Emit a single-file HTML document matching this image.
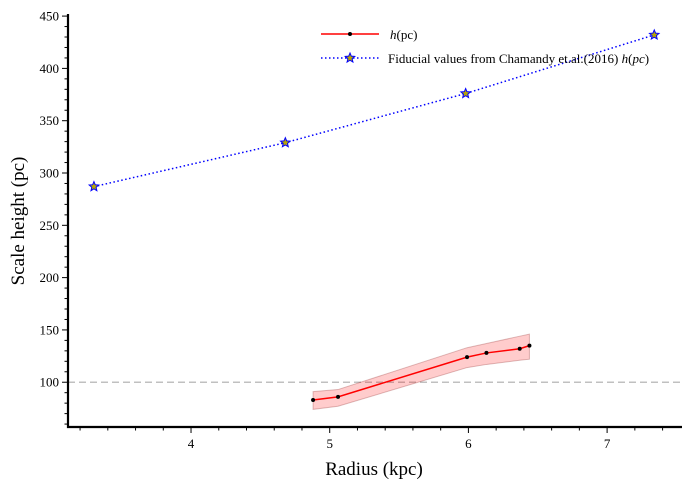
<!DOCTYPE html>
<html><head><meta charset="utf-8"><style>
body{margin:0;background:#fff;}
svg{display:block;font-family:"Liberation Serif",serif;}
</style></head><body>
<svg id="c" width="690" height="489"></svg>
<script>
const redX=[4.88,5.06,5.99,6.13,6.37,6.44];
const redY=[83,86,124,128,132,135];
const redLo=[74,77,114,117,121,122];
const redHi=[91,93,133,137,144,146];
const blueX=[3.3,4.68,5.98,7.34];
const blueY=[287,329,376,432];
const xTicks=[4,5,6,7];
const yTicks=[100,150,200,250,300,350,400,450];
const refY=100;
const X0=68,X1=682,Y0=427,Y1=14;
const xmin=3.113,xmax=7.54,ymin=57.2,ymax=452;
const sx=v=>X0+(v-xmin)/(xmax-xmin)*(X1-X0);
const sy=v=>Y0-(v-ymin)/(ymax-ymin)*(Y0-Y1);
const svg=document.getElementById('c');
const NS='http://www.w3.org/2000/svg';
function mk(t,a,p){const e=document.createElementNS(NS,t);for(const k in a)e.setAttribute(k,a[k]);(p||svg).appendChild(e);return e;}
function star(cx,cy,r){let p='';for(let i=0;i<10;i++){const rr=i%2?r*0.45:r;const a=-Math.PI/2+i*Math.PI/5;p+=(i?'L':'M')+(cx+rr*Math.cos(a)).toFixed(2)+' '+(cy+rr*Math.sin(a)).toFixed(2);}return p+'Z';}
let e=mk('line',{x1:X0,x2:X1,y1:sy(refY),y2:sy(refY),stroke:'#c0c0c0','stroke-width':1.5,'stroke-dasharray':'7,4'});

let bp=redX.map((x,i)=>(i?'L':'M')+sx(x)+' '+sy(redHi[i])).join('')+redX.slice().reverse().map((x,i)=>'L'+sx(x)+' '+sy(redLo[redX.length-1-i])).join('')+'Z';
e=mk('path',{d:bp,fill:'rgba(255,0,0,0.2)',stroke:'rgba(120,0,0,0.25)','stroke-width':1});

e=mk('polyline',{points:redX.map((x,i)=>sx(x)+','+sy(redY[i])).join(' '),fill:'none',stroke:'red','stroke-width':1.5});

redX.forEach((x,i)=>{const c=mk('circle',{cx:sx(x),cy:sy(redY[i]),r:2,fill:'#000'});
});
e=mk('polyline',{points:blueX.map((x,i)=>sx(x)+','+sy(blueY[i])).join(' '),fill:'none',stroke:'blue','stroke-width':1.5,'stroke-dasharray':'1.5,2.5'});

blueX.forEach((x,i)=>{const s=mk('path',{d:star(sx(x),sy(blueY[i]),5),fill:'#b8a800',stroke:'blue','stroke-width':1});
});
e=mk('path',{d:`M${X0} ${Y1}L${X0} ${Y0}L${X1} ${Y0}`,fill:'none',stroke:'#000','stroke-width':2.2});

for(let v=3.2;v<=7.5;v+=0.2){const px=sx(v);const maj=Math.abs(v-Math.round(v))<1e-6;
mk('line',{x1:px,x2:px,y1:Y0,y2:Y0+(maj?6:3.5),stroke:'#000','stroke-width':1});}
for(let v=60;v<=450;v+=10){const py=sy(v);const maj=v%50===0;
mk('line',{x1:X0,x2:X0-(maj?6:3.5),y1:py,y2:py,stroke:'#000','stroke-width':1});}
xTicks.forEach(t=>{const tx=mk('text',{x:sx(t),y:Y0+21,'text-anchor':'middle','font-size':13});tx.textContent=t;
});
yTicks.forEach(t=>{const tx=mk('text',{x:X0-9,y:sy(t)+4.5,'text-anchor':'end','font-size':13});tx.textContent=t;
});
e=mk('text',{x:374,y:475,'text-anchor':'middle','font-size':19});e.textContent='Radius (kpc)';

e=mk('text',{x:24,y:221,'text-anchor':'middle','font-size':19,transform:'rotate(-90 24 221)'});e.textContent='Scale height (pc)';

const lg=mk('g',{});
mk('line',{x1:321,x2:379,y1:34,y2:34,stroke:'red','stroke-width':1.5},lg);
mk('circle',{cx:350,cy:34,r:2,fill:'#000'},lg);
e=mk('text',{x:390,y:39,'font-size':13},lg);e.innerHTML='<tspan font-style="italic">h</tspan>(pc)';

mk('line',{x1:321,x2:379,y1:58,y2:58,stroke:'blue','stroke-width':1.5,'stroke-dasharray':'1.5,2.5'},lg);
mk('path',{d:star(350,58,5),fill:'#b8a800',stroke:'blue','stroke-width':1},lg);
e=mk('text',{x:388,y:63,'font-size':13},lg);e.innerHTML='Fiducial values from Chamandy et.al.(2016) <tspan font-style="italic">h</tspan>(<tspan font-style="italic">pc</tspan>)';

</script>
</body></html>
